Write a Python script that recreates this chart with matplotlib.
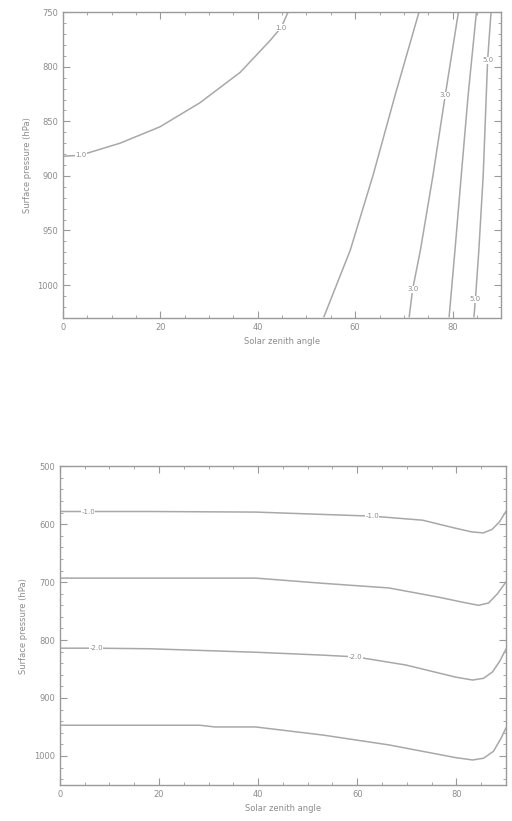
import matplotlib
matplotlib.use("Agg")
import matplotlib.pyplot as plt
from matplotlib.ticker import MultipleLocator, AutoMinorLocator

# --- top panel: contour lines (sza, surface pressure)
top_sza = {
    "1.0": [0.0, 3.7, 5.1, 11.7, 19.9, 28.1, 36.4, 42.5, 44.8, 46.2],
    "2.0": [53.6, 59.0, 63.7, 68.2, 73.1],
    "3.0": [71.1, 71.8, 73.4, 76.0, 78.5, 81.2],
    "4.0": [79.3, 80.5, 81.8, 83.2, 84.9],
    "5.0": [84.4, 84.7, 85.4, 86.3, 87.2, 87.9],
}
top_pres = {
    "1.0": [882, 881, 879, 870, 855, 833, 805, 776, 764, 750],
    "2.0": [1029, 968, 899, 826, 750],
    "3.0": [1029, 1004, 968, 899, 826, 750],
    "4.0": [1029, 968, 899, 826, 750],
    "5.0": [1029, 1013, 968, 899, 794, 750],
}
# which point of each line carries a label (None = unlabelled)
top_label_at = {"1.0": [1, 8], "2.0": None, "3.0": [1, 4], "4.0": None, "5.0": [1, 4]}

# --- bottom panel
bot_sza = {
    "-1.0": [0.0, 5.7, 18.2, 39.5, 46.2, 63.0, 73.2, 79.9, 83.0, 85.4, 87.2, 88.7, 90.0],
    "-1.5": [0.0, 18.2, 39.5, 53.1, 66.4, 76.5, 81.5, 84.5, 86.5, 88.3, 90.0],
    "-2.0": [0.0, 7.3, 18.2, 39.5, 53.1, 59.7, 69.8, 79.9, 83.3, 85.5, 87.3, 88.8, 90.0],
    "-2.5": [0.0, 28.2, 31.3, 39.5, 53.1, 66.4, 79.9, 83.3, 85.5, 87.5, 89.0, 90.0],
}
bot_pres = {
    "-1.0": [578, 578, 578, 579, 581, 586, 593, 607, 613, 615, 609, 596, 578],
    "-1.5": [693, 693, 693, 702, 710, 726, 735, 740, 736, 720, 700],
    "-2.0": [814, 814, 815, 821, 826, 829, 843, 864, 869, 866, 855, 836, 816],
    "-2.5": [947, 947, 950, 950, 964, 981, 1003, 1007, 1004, 992, 970, 952],
}
bot_label_at = {"-1.0": [1, 5], "-1.5": None, "-2.0": [1, 5], "-2.5": None}

line_col = "#a8a8a8"
axis_col = "#9a9a9a"
text_col = "#8c8c8c"


def style_axes(ax, ymajor, yminor):
    for s in ax.spines.values():
        s.set_color(axis_col)
        s.set_linewidth(1.0)
    ax.xaxis.set_major_locator(MultipleLocator(20))
    ax.xaxis.set_minor_locator(AutoMinorLocator(4))
    ax.yaxis.set_major_locator(MultipleLocator(ymajor))
    ax.yaxis.set_minor_locator(AutoMinorLocator(yminor))
    ax.tick_params(which="both", direction="in", top=True, right=True,
                   colors=axis_col, labelcolor=text_col, labelsize=6)
    ax.tick_params(which="major", length=5)
    ax.tick_params(which="minor", length=2.5)
    ax.set_xlabel("Solar zenith angle", fontsize=6, color=text_col)
    ax.set_ylabel("Surface pressure (hPa)", fontsize=6, color=text_col)


def draw_lines(ax, xs, ys, label_at):
    for lev in xs:
        ax.plot(xs[lev], ys[lev], color=line_col, lw=1.1)
        if label_at[lev]:
            for i in label_at[lev]:
                ax.text(xs[lev][i], ys[lev][i], lev, fontsize=5, color=text_col,
                        ha="center", va="center", clip_on=True,
                        bbox=dict(facecolor="white", edgecolor="none", pad=0.3))


fig = plt.figure(figsize=(5.12, 8.21), dpi=100)

ax1 = fig.add_axes([0.123, 0.613, 0.856, 0.372])
draw_lines(ax1, top_sza, top_pres, top_label_at)
ax1.set_xlim(0, 90)
ax1.set_ylim(1030, 750)
style_axes(ax1, 50, 5)

ax2 = fig.add_axes([0.117, 0.044, 0.871, 0.388])
draw_lines(ax2, bot_sza, bot_pres, bot_label_at)
ax2.set_xlim(0, 90)
ax2.set_ylim(1050, 500)
style_axes(ax2, 100, 5)

fig.savefig("out.png", dpi=100)
